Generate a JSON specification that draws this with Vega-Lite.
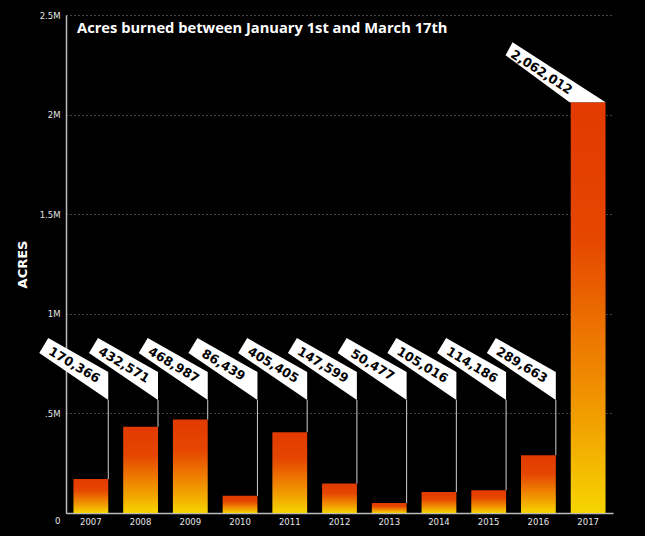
{
  "$schema": "https://vega.github.io/schema/vega-lite/v6.json",
  "width": 547,
  "height": 498,
  "autosize": {"type": "none"},
  "padding": {"left": 66, "top": 15, "right": 32, "bottom": 23},
  "background": "#000000",
  "config": {"view": {"stroke": null}},
  "title": {
    "text": "Acres burned between January 1st and March 17th",
    "anchor": "start",
    "frame": "group",
    "dx": 11,
    "offset": -37,
    "color": "#ffffff",
    "font": "Open Sans",
    "fontSize": 14.7,
    "fontWeight": "bold",
    "baseline": "alphabetic"
  },
  "data": {
    "values": [
      {"year": 2007, "acres": 170366},
      {"year": 2008, "acres": 432571},
      {"year": 2009, "acres": 468987},
      {"year": 2010, "acres": 86439},
      {"year": 2011, "acres": 405405},
      {"year": 2012, "acres": 147599},
      {"year": 2013, "acres": 50477},
      {"year": 2014, "acres": 105016},
      {"year": 2015, "acres": 114186},
      {"year": 2016, "acres": 289663},
      {"year": 2017, "acres": 2062012}
    ]
  },
  "transform": [{"calculate": "max(datum.acres, 567000)", "as": "labelY"}],
  "encoding": {
    "x": {
      "field": "year",
      "type": "ordinal",
      "scale": {"paddingInner": 0.3, "paddingOuter": 0.15},
      "axis": {
        "title": null,
        "labelAngle": 0,
        "labelColor": "#e6e6e6",
        "labelFontSize": 8.5,
        "labelFont": "DejaVu Sans",
        "labelPadding": 4,
        "ticks": false,
        "domainColor": "#bbbbbb",
        "domainWidth": 1.5,
        "grid": false
      }
    }
  },
  "layer": [
    {
      "mark": {
        "type": "bar",
        "color": {
          "gradient": "linear",
          "x1": 0, "y1": 0, "x2": 0, "y2": 1,
          "stops": [
            {"offset": 0, "color": "#e23a00"},
            {"offset": 0.33, "color": "#e54600"},
            {"offset": 0.6, "color": "#ee7c00"},
            {"offset": 0.8, "color": "#f2a500"},
            {"offset": 1, "color": "#f6d500"}
          ]
        }
      },
      "encoding": {
        "y": {
          "field": "acres",
          "type": "quantitative",
          "title": "ACRES",
          "scale": {"domain": [0, 2500000], "nice": false},
          "axis": {
            "title": "ACRES",
            "titleColor": "#ffffff",
            "titleFont": "DejaVu Sans",
            "titleFontSize": 13,
            "titleFontWeight": "bold",
            "titlePadding": 10,
            "values": [0, 500000, 1000000, 1500000, 2000000, 2500000],
            "labelExpr": "datum.value == 0 ? '0' : datum.value == 500000 ? '.5M' : (datum.value / 1000000) + 'M'",
            "labelColor": "#e6e6e6",
            "labelFontSize": 8.5,
            "labelFont": "DejaVu Sans",
            "labelPadding": 6,
            "labelOffset": {"condition": {"test": "datum.value == 0", "value": 7}, "value": 0},
            "ticks": false,
            "domainColor": "#bbbbbb",
            "domainWidth": 1.5,
            "grid": true,
            "gridColor": "#8a8a8a",
            "gridDash": [1, 3],
            "gridWidth": 1
          }
        }
      }
    },
    {
      "transform": [{"filter": "datum.year != 2017"}],
      "mark": {"type": "rule", "color": "#d0d0d0", "strokeWidth": 1},
      "encoding": {
        "x": {"field": "year", "type": "ordinal", "bandPosition": 1},
        "y": {"field": "acres", "type": "quantitative", "title": "ACRES"},
        "y2": {"field": "labelY"}
      }
    },
    {
      "transform": [{"filter": "datum.year != 2017"}],
      "mark": {
        "type": "point",
        "shape": "M -0.6 -0.62 L 0 -0.28 L 0 0 L -0.69 -0.47 Z",
        "size": 40000,
        "filled": true,
        "fill": "#ffffff",
        "opacity": 1,
        "strokeWidth": 0
      },
      "encoding": {
        "x": {"field": "year", "type": "ordinal", "bandPosition": 1},
        "y": {"field": "labelY", "type": "quantitative", "title": "ACRES"}
      }
    },
    {
      "transform": [{"filter": "datum.year == 2017"}],
      "mark": {
        "type": "point",
        "shape": "M -0.93 -0.6 L 0 0 L -0.36 0 L -1.0 -0.47 Z",
        "size": 40000,
        "filled": true,
        "fill": "#ffffff",
        "opacity": 1,
        "strokeWidth": 0
      },
      "encoding": {
        "x": {"field": "year", "type": "ordinal", "bandPosition": 1},
        "y": {"field": "labelY", "type": "quantitative", "title": "ACRES"}
      }
    },
    {
      "transform": [{"filter": "datum.year != 2017"}],
      "mark": {
        "type": "text",
        "angle": 31,
        "align": "center",
        "baseline": "middle",
        "dx": -47.2,
        "dy": -12.5,
        "font": "DejaVu Sans",
        "fontWeight": "bold",
        "fontSize": 12.5,
        "color": "#000000"
      },
      "encoding": {
        "x": {"field": "year", "type": "ordinal", "bandPosition": 1},
        "y": {"field": "labelY", "type": "quantitative", "title": "ACRES"},
        "text": {"field": "acres", "type": "quantitative", "format": ",d"}
      }
    },
    {
      "transform": [{"filter": "datum.year == 2017"}],
      "mark": {
        "type": "text",
        "angle": 33,
        "align": "center",
        "baseline": "middle",
        "dx": -70,
        "dy": 9.7,
        "font": "DejaVu Sans",
        "fontWeight": "bold",
        "fontSize": 12.5,
        "color": "#000000"
      },
      "encoding": {
        "x": {"field": "year", "type": "ordinal", "bandPosition": 1},
        "y": {"field": "labelY", "type": "quantitative", "title": "ACRES"},
        "text": {"field": "acres", "type": "quantitative", "format": ",d"}
      }
    }
  ]
}
